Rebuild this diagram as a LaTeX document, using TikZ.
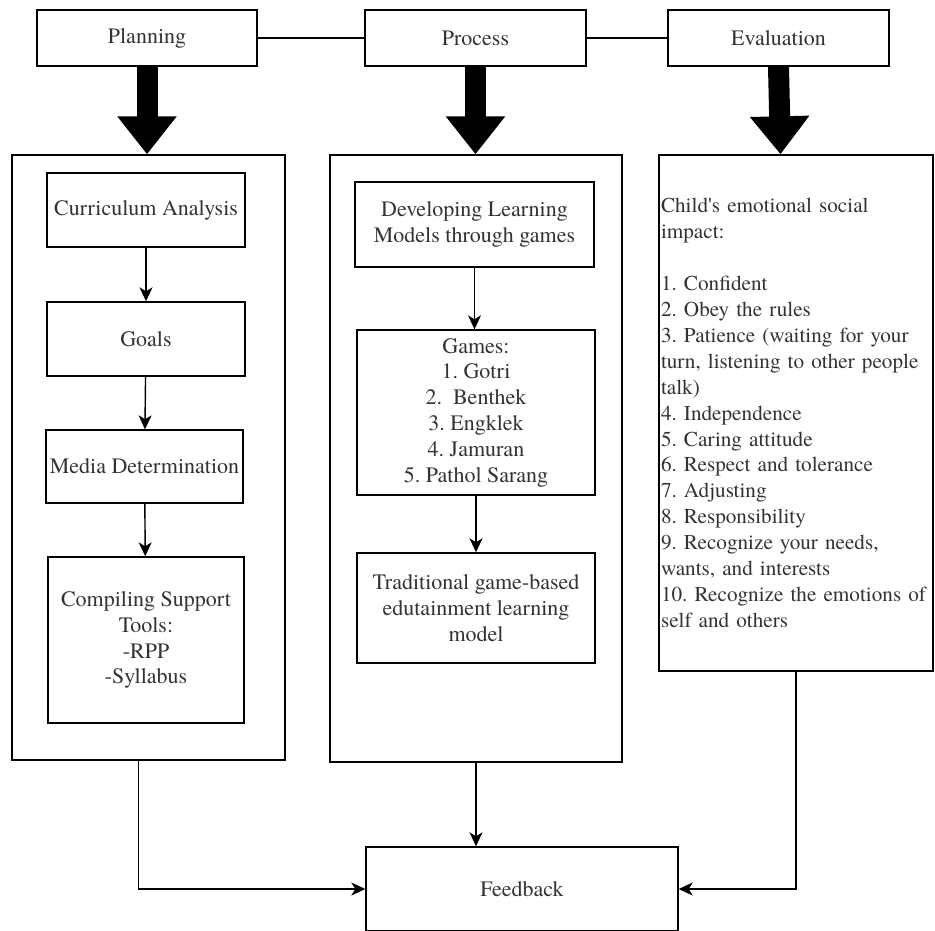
\documentclass[tikz,border=0pt]{standalone}
\usepackage{fontspec}
\setmainfont{TeX Gyre Termes}
\usetikzlibrary{arrows.meta}
\definecolor{textgray}{HTML}{333333}
\frenchspacing
\begin{document}
\begin{tikzpicture}[x=1pt,y=-1pt,
  box/.style={draw=black,line width=1.4pt,inner sep=0pt,align=center,text=textgray,
    font=\fontsize{22}{25.8}\selectfont},
  thinarrow/.style={line width=1.4pt,-{Stealth[length=14pt,width=13pt,inset=4pt]}},
  plainline/.style={line width=1.4pt},
  fatarrow/.style={line width=21pt,-{Triangle[width=57pt,length=38pt]}}]
\useasboundingbox (0,0) rectangle (935,930);
% top row
\node[box,minimum width=220pt,minimum height=56pt] (planning) at (147,38) {Planning};
\node[box,minimum width=221pt,minimum height=56pt] (process) at (475.5,38) {Process};
\node[box,minimum width=221pt,minimum height=56pt] (evaluation) at (778.5,38) {Evaluation};
% big containers
\node[box,minimum width=273pt,minimum height=605pt] (planbig) at (148.5,457.5) {};
\node[box,minimum width=292pt,minimum height=607pt] (procbig) at (476,458.5) {};
\node[box,align=left,text width=270pt,inner xsep=2pt,minimum height=516pt,
      font=\fontsize{21.2}{25.9}\selectfont] (evalbig) at (796,413)
 {Child\textquotesingle s emotional social\\impact:\\[25.9pt]
  1. Confident\\2. Obey the rules\\\mbox{3. Patience (waiting for your}\\\mbox{turn, listening to other people}\\talk)\\
  4. Independence\\5. Caring attitude\\6. Respect and tolerance\\7. Adjusting\\8. Responsibility\\
  9. Recognize your needs,\\wants, and interests\\\mbox{10. Recognize the emotions of}\\self and others\\[4pt]};
% planning column
\node[box,minimum width=198pt,minimum height=74pt] (curr) at (146,210) {Curriculum Analysis};
\node[box,minimum width=198pt,minimum height=74pt] (goals) at (146,339) {Goals};
\node[box,minimum width=197pt,minimum height=73pt] (media) at (144.5,466.5) {Media Determination};
\node[box,minimum width=196pt,minimum height=166pt] (compile) at (146,640) {Compiling Support\\Tools:\\-RPP\\-Syllabus};
% process column
\node[box,minimum width=239pt,minimum height=85pt] (develop) at (474.5,224.5) {Developing Learning\\Models through games};
\node[box,minimum width=238pt,minimum height=165pt] (games) at (476,412.5) {Games:\\1. Gotri\\2.\ \ Benthek\\3. Engklek\\4. Jamuran\\5. Pathol Sarang};
\node[box,minimum width=238pt,minimum height=110pt] (trad) at (476,608) {Traditional game-based\\edutainment learning\\model};
% feedback
\node[box,minimum width=312pt,minimum height=84pt] (feedback) at (522,889) {Feedback};
% connectors
\draw[plainline] (planning) -- (process);
\draw[plainline] (process) -- (evaluation);
\draw[fatarrow] (planning.south) -- (planning.south |- planbig.north);
\draw[fatarrow] (process.south) -- (process.south |- procbig.north);
\draw[fatarrow] (evaluation.south) -- ([xshift=2pt]evaluation.south |- evalbig.north);
\draw[thinarrow] (curr) -- (goals);
\draw[thinarrow] (goals) -- (media);
\draw[thinarrow] (media) -- (compile);
\draw[thinarrow] (develop.south) -- (develop.south |- games.north);
\draw[thinarrow] (games) -- (trad);
\draw[thinarrow] (procbig.south) -- (procbig.south |- feedback.north);
\coordinate (planout) at ([xshift=-10pt]planbig.south);
\draw[thinarrow] (planout) |- (feedback.west);
\draw[thinarrow] (evalbig.south) |- (feedback.east);
\end{tikzpicture}
\end{document}
